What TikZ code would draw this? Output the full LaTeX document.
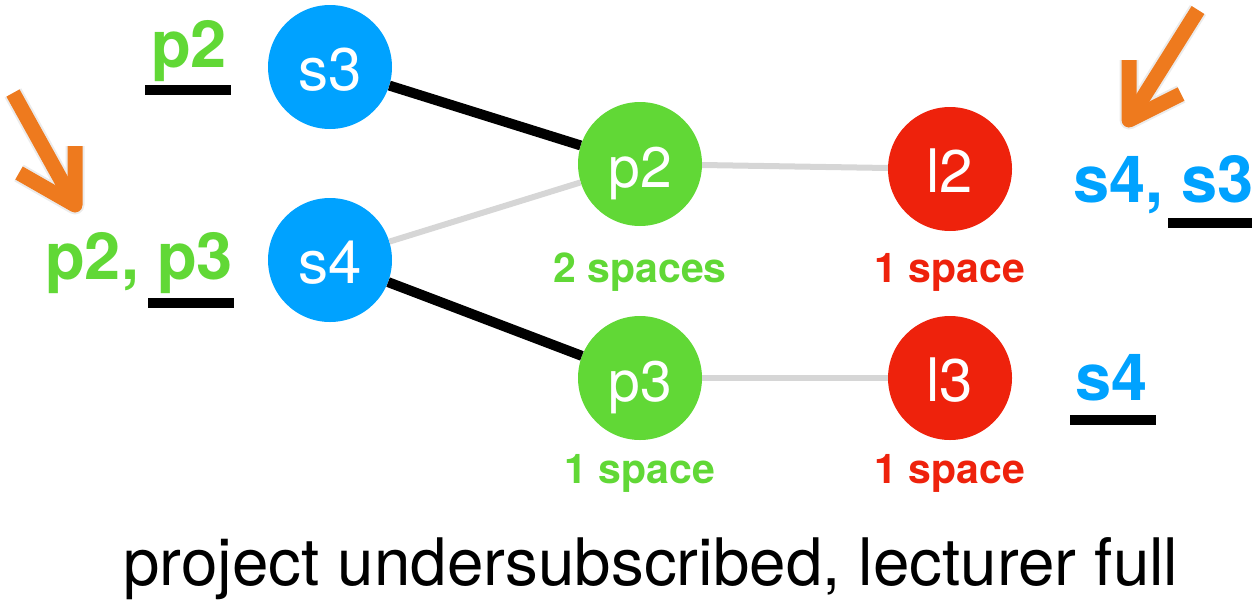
\documentclass[tikz,border=0pt]{standalone}
\usepackage{fontspec}
\setmainfont{TeX Gyre Heros}
\definecolor{sblue}{HTML}{00A2FF}
\definecolor{pgreen}{HTML}{61D836}
\definecolor{lred}{HTML}{EE220C}
\definecolor{arrorange}{HTML}{EE7A1E}
\definecolor{edgegray}{HTML}{D6D6D6}
\begin{document}
\begin{tikzpicture}[x=1pt,y=-1pt,
  vert/.style={circle, minimum size=124pt, inner sep=0pt, text=white,
    text height=47pt, text depth=0pt, font=\fontsize{60}{60}\selectfont},
  snode/.style={vert, fill=sblue},
  pnode/.style={vert, fill=pgreen, font=\fontsize{57}{57}\selectfont},
  lnode/.style={vert, fill=lred},
  spacelbl/.style={font=\bfseries\fontsize{41}{41}\selectfont, anchor=base, inner sep=0pt},
  sidelbl/.style={font=\bfseries\fontsize{65}{65}\selectfont, inner sep=0pt},
  matched/.style={line width=10pt, black},
  unmatched/.style={line width=6pt, edgegray},
  uline/.style={line width=10pt, black},
  bigarrow/.style={line width=15pt, arrorange, line join=round},
  arrshadow/.style={line width=19pt, black, opacity=0.08, line join=round},
]
\useasboundingbox (0,0) rectangle (1252,600);

% vertices
\node[snode] (s3) at (330,67) {s3};
\node[snode] (s4) at (330,260) {s4};
\node[pnode] (p2) at (640,164) {p2};
\node[pnode] (p3) at (640,378) {p3};
\node[lnode] (l2) at (950,169) {l2};
\node[lnode] (l3) at (950,378) {l3};

% edges
\draw[matched] (s3) -- (p2);
\draw[unmatched] (s4) -- (p2);
\draw[matched] (s4) -- (p3);
\draw[unmatched] (p2) -- (l2);
\draw[unmatched] (p3) -- (l3);

% capacities
\node[spacelbl, text=pgreen] (c2) at (640,282) {2 spaces};
\node[spacelbl, text=lred] (cl2) at (950,282) {1 space};
\node[spacelbl, text=pgreen] (c3) at (640,483) {1 space};
\node[spacelbl, text=lred] (cl3) at (950,483) {1 space};

% preference lists
\node[sidelbl, anchor=base west, text=pgreen] (pl3) at (151,67) {p2};
\node[sidelbl, anchor=base west, text=pgreen] (pl4) at (45,279) {p2, p3};
\node[sidelbl, anchor=base east, text=sblue] (ll2) at (1254,202) {s4, s3};
\node[sidelbl, anchor=base west, text=sblue] (ll3) at (1075,400) {s4};

% underlines
\draw[uline] (145,90) -- (231,90);
\draw[uline] (148,303) -- (234,303);
\draw[uline] (1168,223) -- (1252,223);
\draw[uline] (1070,420) -- (1156,420);

% orange arrows
\coordinate (at1) at (13,93);
\coordinate (ah1) at (75,205);
\coordinate (aa1) at (75,146);
\coordinate (ab1) at (19,173);
\draw[arrshadow, shift={(2,3)}] (at1) -- (ah1) (aa1) -- (ah1) -- (ab1);
\draw[bigarrow] (at1) -- (ah1);
\draw[bigarrow] (aa1) -- (ah1) -- (ab1);
\coordinate (at2) at (1198,10);
\coordinate (ah2) at (1129,120);
\coordinate (aa2) at (1129,60);
\coordinate (ab2) at (1181,94);
\draw[arrshadow, shift={(2,3)}] (at2) -- (ah2) (aa2) -- (ah2) -- (ab2);
\draw[bigarrow] (at2) -- (ah2);
\draw[bigarrow] (aa2) -- (ah2) -- (ab2);

% caption
\node[font=\fontsize{65.5}{65.5}\selectfont, anchor=base, inner sep=0pt] (caption) at (651,585) {project undersubscribed, lecturer full};
\end{tikzpicture}
\end{document}
